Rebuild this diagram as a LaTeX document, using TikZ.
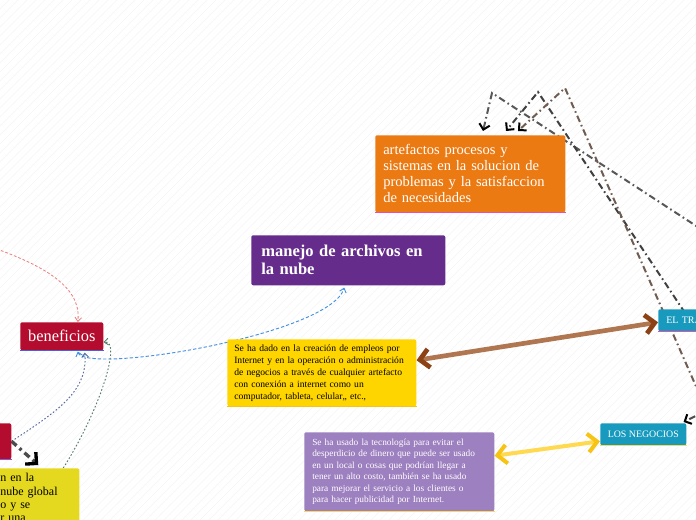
\documentclass[tikz,border=0pt]{standalone}
\usepackage{fontspec}
\setmainfont{Liberation Serif}
\usetikzlibrary{arrows.meta,calc}

\definecolor{naranja}{RGB}{236,122,18}
\definecolor{morado}{RGB}{102,44,140}
\definecolor{rojo}{RGB}{180,12,46}
\definecolor{amarillo}{RGB}{255,213,0}
\definecolor{amarillob}{RGB}{229,217,32}
\definecolor{lila}{RGB}{157,128,191}
\definecolor{turquesa}{RGB}{24,154,190}
\definecolor{rosa}{RGB}{232,80,170}
\definecolor{azulb}{RGB}{70,95,235}
\definecolor{cafe}{RGB}{176,118,80}
\definecolor{cafeosc}{RGB}{140,66,20}
\definecolor{oro}{RGB}{255,217,80}
\definecolor{orooscuro}{RGB}{248,196,20}
\definecolor{salmon}{RGB}{240,120,120}
\definecolor{celeste}{RGB}{70,145,225}
\definecolor{pizarra}{RGB}{80,105,160}
\definecolor{verdegris}{RGB}{80,122,105}
\definecolor{pardo}{RGB}{112,92,80}

\pgfdeclarelayer{fondo}
\pgfdeclarelayer{lineas}
\pgfsetlayers{fondo,lineas,main}

\tikzset{
  caja/.style={anchor=north west, rounded corners=1.5pt, inner sep=0pt, align=left},
  fina/.style={line width=0.7pt, -{Straight Barb[length=3pt,width=5pt]}},
  cruzada/.style={line width=1.5pt, dash pattern=on 5pt off 2.5pt on 1.2pt off 2.5pt,
    -{Straight Barb[color=black,length=4pt,width=8pt]}},
  gruesa/.style={line width=3.5pt},
}

\begin{document}
\begin{tikzpicture}[x=0.75pt,y=-0.75pt]
    \useasboundingbox (0,0) rectangle (696,520);

    % --- fondo rayado ---
    \begin{pgfonlayer}{fondo}
        \fill[white] (0,0) rectangle (696,520);
        \foreach \i in {-520,-511,...,696}
            \draw[black!4, line width=0.5pt] (\i,520) -- (\i+520,0);
    \end{pgfonlayer}

    % --- Tema central: artefactos ---
    \node[caja, fill=naranja, text=white, minimum width=142.5pt, minimum height=57.75pt,
          inner xsep=6pt, text width=130.5pt, font=\fontsize{10.9}{12}\selectfont]
          (artef) at (375,135)
          {artefactos procesos y\\ sistemas en la solucion de\\ problemas y la satisfaccion\\ de necesidades};
    \draw[rosa, line width=1pt] (artef.south west) -- (artef.south east);

    % manejo de archivos
    \node[caja, fill=morado, text=white, minimum width=145.5pt, minimum height=37.5pt,
          inner xsep=7.5pt, text width=130.5pt, font=\fontsize{12.4}{13.5}\selectfont\bfseries]
          (manejo) at (251,235) {manejo de archivos en\\ la nube};

    % beneficios
    \node[caja, fill=rojo, text=white, minimum width=62.25pt, minimum height=21pt,
          align=center, font=\fontsize{12.3}{14}\selectfont] (benef) at (20,322) {beneficios};
    \draw[azulb, line width=1pt] (benef.south west) -- (benef.south east);

    % empleos
    \node[caja, fill=amarillo, text=black, minimum width=141.75pt, minimum height=50.25pt,
          inner xsep=5.25pt, text width=131.25pt, font=\fontsize{7.2}{9}\selectfont]
          (empleo) at (227,339)
          {\mbox{Se ha dado en la creación de empleos por}\\
           \mbox{Internet y en la operación o administración}\\
           \mbox{de negocios a través de cualquier artefacto}\\
           \mbox{con conexión a internet como un}\\
           \mbox{computador, tableta, celular,, etc.,}};
    \draw[orooscuro, line width=1pt] (empleo.south west) -- (empleo.south east);

    % uso en negocios
    \node[caja, fill=lila, text=white, minimum width=142.5pt, minimum height=59.25pt,
          inner xsep=6pt, text width=130.5pt, font=\fontsize{7}{8.6}\selectfont]
          (usado) at (304,432)
          {Se ha usado la tecnología para evitar el\\ desperdicio de dinero que puede ser usado\\
           en un local o cosas que podrían llegar a\\ tener un alto costo, también se ha usado\\
           para mejorar el servicio a los clientes o\\ para hacer publicidad por Internet.};
    \draw[oro, line width=1pt] (usado.south west) -- (usado.south east);

    % subtemas azules
    \node[caja, fill=turquesa, text=white, minimum width=75pt, minimum height=16.5pt,
          inner xsep=6pt, text width=63pt, font=\fontsize{7.5}{9}\selectfont]
          (trab) at (658,309) {EL TRA};
    \draw[rosa, line width=1pt] (trab.south west) -- (trab.south east);

    \node[caja, fill=turquesa, text=white, minimum width=64.5pt, minimum height=16.5pt,
          align=center, font=\fontsize{7.4}{9}\selectfont] (negoc) at (600,423) {LOS NEGOCIOS};
    \draw[oro, line width=1pt] (negoc.south west) -- (negoc.south east);

    % --- esquina inferior izquierda ---
    \node[caja, fill=rojo, minimum width=53.25pt, minimum height=27pt] (rojo2) at (-60,423) {};
    \draw[azulb!60!rosa, line width=1pt] (rojo2.south west) -- (rojo2.south east);

    \node[caja, fill=amarillob, text=black, inner xsep=15pt, inner ysep=4pt,
          text width=44.25pt, font=\fontsize{9}{10}\selectfont]
          (nube) at (-20,468) {n en la\\ nube global\\ o y se\\ r una};

    % --- conectores ---
    \begin{pgfonlayer}{lineas}
        % punteadas finas hacia beneficios
        \coordinate (ent1) at (-30,240);
        \draw[fina, salmon, dash pattern=on 2pt off 1.5pt, line width=0.6pt]
            (ent1) .. controls (40,262) and (82,285) .. ($(benef.north)+(16,0)$);
        \draw[fina, celeste, dash pattern=on 2.5pt off 1.5pt, {Straight Barb[length=3pt,width=5pt]}-{Straight Barb[length=3pt,width=5pt]}]
            ($(benef.south)+(16,1)$) .. controls (85,375) and (330,335) .. ($(manejo.south)+(-4,2)$);
        \draw[fina, pizarra, dash pattern=on 1.2pt off 1.5pt]
            (rojo2.east) .. controls (60,410) and (88,390) .. ($(benef.south)+(23,2)$);
        \draw[fina, verdegris, dash pattern=on 1.2pt off 1.5pt]
            ($(nube.north)+(33.5,0)$) .. controls (100,410) and (122,340) .. (benef.-8);
        \draw[line width=2.5pt, black!70, dash pattern=on 5pt off 3pt on 2pt off 3pt,
              -{Straight Barb[color=black,length=6pt,width=12pt,line width=2.5pt]}]
            (rojo2.east) -- ($(nube.north)+(8.5,-3)$);

        % flechas gruesas
        \draw[gruesa, cafe, {Straight Barb[color=cafeosc,length=7pt,width=14pt]}-{Straight Barb[color=cafeosc,length=7pt,width=14pt]}]
            ($(empleo.east)+(0,-12.5)$) -- ($(trab.west)+(0,2)$);
        \draw[gruesa, oro, line width=3pt, {Straight Barb[color=orooscuro,length=7pt,width=14pt]}-{Straight Barb[color=orooscuro,length=7pt,width=14pt]}]
            ($(usado.east)+(0,-16)$) -- ($(negoc.west)+(0,7)$);

        % lineas que llegan desde la derecha
        \coordinate (ea) at (730,248);
        \coordinate (pa) at (492,93);
        \draw[cruzada, black!66] (ea) -- (pa) -- ($(artef.north west)+(108,-4)$);
        \coordinate (eb) at (743,400);
        \coordinate (pb) at (538,92);
        \draw[cruzada, black!75] (eb) -- (pb) -- ($(artef.north west)+(131,-4)$);
        \coordinate (ec) at (724,450);
        \coordinate (pc) at (565,88);
        \draw[cruzada, pardo] (ec) -- (pc) -- ($(artef.north west)+(143,-4)$);
        \coordinate (ed) at (722,403);
        \draw[cruzada, black!70] (ed) -- ($(negoc.north east)+(-3,-1)$);
    \end{pgfonlayer}
\end{tikzpicture}
\end{document}
